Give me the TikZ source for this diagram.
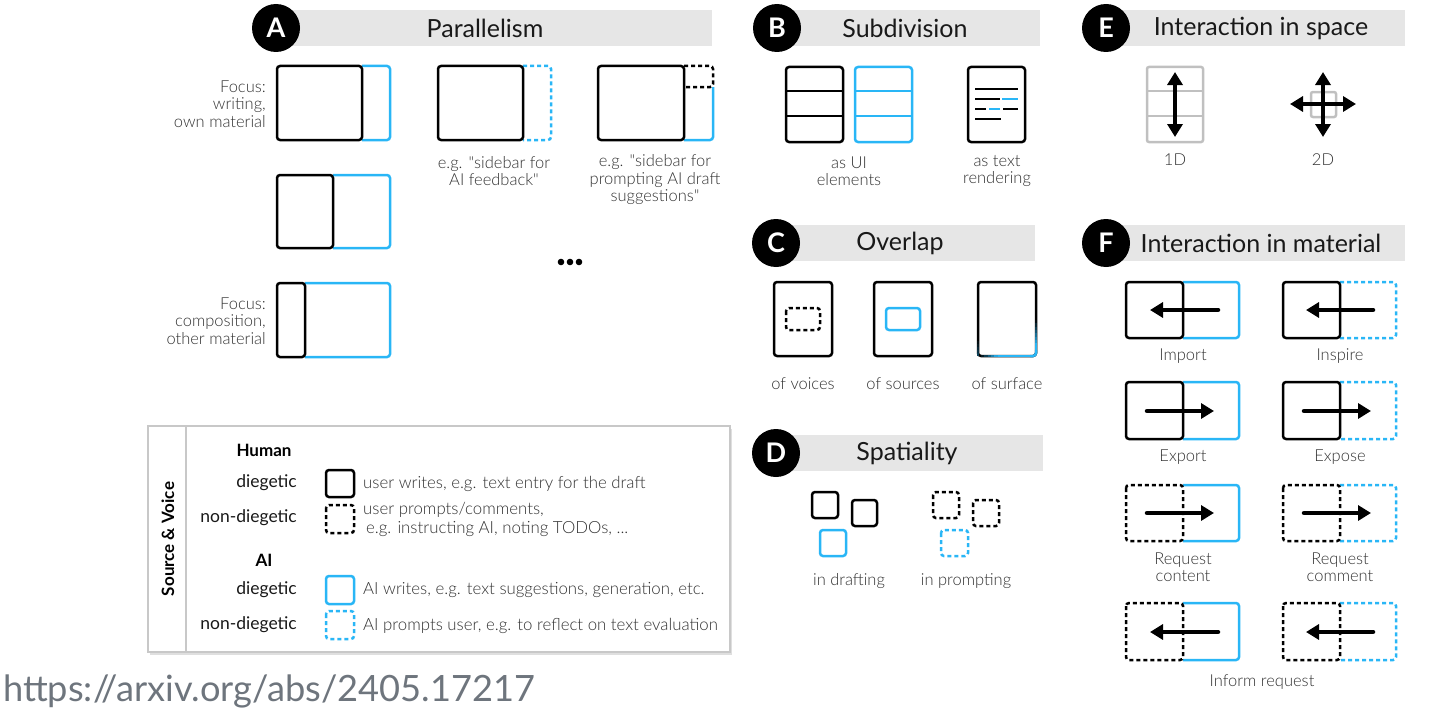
\documentclass[tikz,border=0pt]{standalone}
\usepackage{fontspec}
\setmainfont{Lato}
\newfontfamily\lightf{Lato Light}
\usepackage{graphicx}
\usetikzlibrary{arrows.meta,shadows}
\definecolor{bluec}{RGB}{41,182,246}
\definecolor{hdrgray}{RGB}{230,230,230}
\definecolor{labelc}{RGB}{50,50,50}
\definecolor{urlc}{RGB}{110,117,125}
\definecolor{gridgray}{RGB}{192,192,192}
\definecolor{leggray}{RGB}{200,200,200}
\newcommand\sechead[7]{%
  \fill[hdrgray] (#3,#4-18) rectangle (#5,#4+18);
  \node[circ] (c#1) at (#3,#4) {#2};
  \node[sectitle] (t#1) at (#6,#4) {#7};
}
\begin{document}
\begin{tikzpicture}[x=1pt,y=-1pt,
  circ/.style={circle, fill=black, minimum size=48pt, inner sep=0pt, text=white, font=\bfseries\fontsize{27}{27}\selectfont},
  sectitle/.style={font=\fontsize{25}{28}\selectfont, text=black!90, inner sep=0pt},
  lbl/.style={font=\lightf\fontsize{16.5}{17.5}\selectfont, text=labelc, align=center, inner sep=0pt},
  legtxt/.style={font=\lightf\fontsize{16.8}{18}\selectfont, text=labelc, inner sep=0pt, anchor=west},
  legkey/.style={font=\fontsize{17.5}{18}\selectfont, text=black!90, inner sep=0pt, anchor=east},
  leghead/.style={font=\bfseries\fontsize{17}{18}\selectfont, text=black, inner sep=0pt},
  bk/.style={draw=black, line width=2.5pt, rounded corners=3pt},
  bl/.style={draw=bluec, line width=2.5pt, rounded corners=3pt},
  dsh/.style={dash pattern=on 4pt off 3pt},
  gridsty/.style={draw=gridgray, line width=2.5pt, rounded corners=2pt},
  thickarr/.style={line width=4.5pt, line cap=round, -{Triangle[length=13pt,width=15pt]}},
  dblarr/.style={line width=4.5pt, {Triangle[length=13pt,width=15pt]}-{Triangle[length=13pt,width=15pt]}},
]
\useasboundingbox (0,0) rectangle (1440,717);

% ---------- headers ----------
\sechead{A}{A}{276}{28}{712}{485}{Parallelism}
\sechead{B}{B}{777}{28}{1040}{905}{Subdivision}
\sechead{C}{C}{776}{243}{1035}{900}{Overlap}
\sechead{D}{D}{776}{453}{1043}{907}{Spatiality}
\sechead{E}{E}{1106}{28}{1405}{1261}{Interaction in space}
\sechead{F}{F}{1106}{243}{1405}{1261}{Interaction in material}

% ---------- A: Parallelism ----------
\draw[bl] (362,66) -- (390,66) -- (390,140) -- (362,140);
\draw[bk] (277,66) rectangle (362,140);
\draw[bl,dsh] (523,66) -- (551,66) -- (551,140) -- (523,140);
\draw[bk] (438,66) rectangle (523,140);
\draw[bl] (713,87) -- (713,140) -- (684,140);
\draw[bk,dsh] (684,66) -- (713,66) -- (713,87) -- (684,87);
\draw[bk] (598,66) rectangle (684,140);
\draw[bl] (333,175) -- (390,175) -- (390,248) -- (333,248);
\draw[bk] (277,175) rectangle (333,248);
\draw[bl] (305,283) -- (390,283) -- (390,357) -- (305,357);
\draw[bk] (277,283) rectangle (305,357);
\node[lbl, anchor=east, align=right] (focus1) at (266,104) {Focus:\\writing,\\own material};
\node[lbl, anchor=east, align=right] (focus2) at (266,321) {Focus:\\composition,\\other material};
\node[lbl] (eg1) at (494,171) {e.g. "sidebar for\\AI feedback"};
\node[lbl] (eg2) at (655,180) {e.g. "sidebar for\\prompting AI draft\\suggestions"};
\foreach \x in {561,570,579} \fill (\x,262) circle (3.3pt);

% ---------- B: Subdivision ----------
\draw[bk] (786,67) rectangle (843,142);
\draw[black, line width=2.5pt] (786,91) -- (843,91) (786,116) -- (843,116);
\draw[bl] (855,67) rectangle (912,142);
\draw[bluec, line width=2.5pt] (855,91) -- (912,91) (855,116) -- (912,116);
\draw[bk] (968,67) rectangle (1025,142);
\begin{scope}[line width=2.3pt]
\draw[black] (975,89) -- (1018,89);
\draw[black] (975,99) -- (1000,99);
\draw[bluec] (1002,99) -- (1018,99);
\draw[black] (975,109) -- (986,109);
\draw[bluec] (989,109) -- (1000,109);
\draw[black] (1003,109) -- (1018,109);
\draw[black] (975,119) -- (1001,119);
\end{scope}
\node[lbl] (asui) at (849,171) {as UI\\elements};
\node[lbl] (astext) at (997,171) {as text\\rendering};

% ---------- C: Overlap ----------
\draw[bk] (774,282) rectangle (832,356);
\draw[bk,dsh] (786,308) rectangle (820,330);
\draw[bk] (874,282) rectangle (932,356);
\draw[bl] (886,308) rectangle (920,330);
\draw[bk] (978,282) rectangle (1036,356);
% gradient from black (top-left) to blue (bottom-right)
\foreach \i in {0,...,19}{
  \pgfmathsetmacro\ya{287+\i*3.3}
  \pgfmathsetmacro\yb{\ya+3.4}
  \pgfmathsetmacro\p{min(100,max(0,(\i/19-0.5)/0.4*100))}
  \draw[bluec!\p!black, line width=2.5pt] (1036,\ya) -- (1036,\yb);
}
\foreach \i in {0,...,15}{
  \pgfmathsetmacro\xa{981+\i*3.3}
  \pgfmathsetmacro\xb{\xa+3.4}
  \pgfmathsetmacro\p{min(100,max(0,(\i/15+0.05)/0.35*100))}
  \draw[bluec!\p!black, line width=2.5pt] (\xa,356) -- (\xb,356);
}
\draw[bluec, line width=2.5pt, rounded corners=3pt] (1036,350) -- (1036,356) -- (1030,356);
\foreach \i in {0,...,5}{
  \pgfmathsetmacro\ya{338+\i*3}
  \pgfmathsetmacro\yb{\ya+3.1}
  \pgfmathsetmacro\p{\i*7}
  \draw[bluec!\p!black, line width=2.5pt] (978,\ya) -- (978,\yb);
}
\node[lbl] (ovv) at (803,384) {of voices};
\node[lbl] (ovs) at (903,384) {of sources};
\node[lbl] (ovf) at (1007,384) {of surface};

% ---------- D: Spatiality ----------
\draw[bk] (812,492) rectangle (838,518);
\draw[bk] (852,500) rectangle (877,526);
\draw[bl] (820,530) rectangle (846,556);
\draw[bk,dsh] (933,492) rectangle (959,518);
\draw[bk,dsh] (973,500) rectangle (999,526);
\draw[bl,dsh] (941,530) rectangle (968,556);
\node[lbl] (indr) at (849,581) {in drafting};
\node[lbl] (inpr) at (966,581) {in prompting};

% ---------- E: Interaction in space ----------
\draw[gridsty] (1147,67) rectangle (1203,142);
\draw[gridgray, line width=2.5pt] (1147,91) -- (1203,91) (1147,116) -- (1203,116);
\draw[dblarr] (1175,72) -- (1175,137);
\draw[gridsty] (1311,92) rectangle (1336,117);
\draw[dblarr] (1290,104) -- (1356,104);
\draw[dblarr] (1323,72) -- (1323,137);
\node[lbl] (oned) at (1175,160) {1D};
\node[lbl] (twod) at (1323,160) {2D};

% ---------- F: Interaction in material ----------
% row 1
\draw[bl] (1183,282) -- (1239,282) -- (1239,338) -- (1183,338);
\draw[bk] (1126,282) rectangle (1183,338);
\draw[thickarr] (1218,310) -- (1150,310);
\draw[bl,dsh] (1340,282) -- (1396,282) -- (1396,338) -- (1340,338);
\draw[bk] (1283,282) rectangle (1340,338);
\draw[thickarr] (1373,310) -- (1306,310);
\node[lbl] (imp) at (1183,356) {Import};
\node[lbl] (insp) at (1340,356) {Inspire};
% row 2
\draw[bl] (1183,382) -- (1239,382) -- (1239,439) -- (1183,439);
\draw[bk] (1126,382) rectangle (1183,439);
\draw[thickarr] (1147,411) -- (1214,411);
\draw[bl,dsh] (1340,382) -- (1396,382) -- (1396,439) -- (1340,439);
\draw[bk] (1283,382) rectangle (1340,439);
\draw[thickarr] (1304,411) -- (1371,411);
\node[lbl] (exp) at (1183,457) {Export};
\node[lbl] (expo) at (1340,457) {Expose};
% row 3
\draw[bl] (1183,485) -- (1239,485) -- (1239,541) -- (1183,541);
\draw[bk,dsh] (1126,485) rectangle (1183,541);
\draw[thickarr] (1147,513) -- (1214,513);
\draw[bl,dsh] (1340,485) -- (1396,485) -- (1396,541) -- (1340,541);
\draw[bk,dsh] (1283,485) rectangle (1340,541);
\draw[thickarr] (1304,513) -- (1371,513);
\node[lbl] (reqc) at (1183,567) {Request\\content};
\node[lbl] (reqm) at (1340,567) {Request\\comment};
% row 4
\draw[bl] (1183,603) -- (1239,603) -- (1239,660) -- (1183,660);
\draw[bk,dsh] (1126,603) rectangle (1183,660);
\draw[thickarr] (1218,632) -- (1150,632);
\draw[bl,dsh] (1340,603) -- (1396,603) -- (1396,660) -- (1340,660);
\draw[bk,dsh] (1283,603) rectangle (1340,660);
\draw[thickarr] (1373,632) -- (1306,632);
\node[lbl] (inform) at (1262,682) {Inform request};

% ---------- Legend ----------
\filldraw[draw=leggray, fill=white, line width=1.5pt, drop shadow={shadow xshift=2pt, shadow yshift=-3pt, opacity=0.25}] (148,426) rectangle (730,652);
\draw[leggray, line width=1.5pt] (186,426) -- (186,652);
\node[rotate=90, font=\bfseries\fontsize{17}{18}\selectfont, inner sep=0pt] (srcv) at (168,539) {Source \& Voice};
\node[leghead] (human) at (264,450) {Human};
\node[leghead] (ai) at (264,560) {AI};
\node[legkey] (k1) at (297,483) {diegetic};
\node[legkey] (k2) at (297,518) {non-diegetic};
\node[legkey] (k3) at (297,590) {diegetic};
\node[legkey] (k4) at (297,625) {non-diegetic};
\draw[bk] (326,470) rectangle (354,497);
\draw[bk,dsh] (326,505) rectangle (354,533);
\draw[bl] (326,576) rectangle (354,604);
\draw[bl,dsh] (326,611) rectangle (354,639);
\node[legtxt] (d1) at (363,484) {user writes, e.g. text entry for the draft};
\node[legtxt] (d2) at (363,510) {user prompts/comments,};
\node[legtxt] (d2b) at (366,529) {e.g. instructing AI, noting TODOs, ...};
\node[legtxt] (d3) at (363,590) {AI writes, e.g. text suggestions, generation, etc.};
\node[legtxt] (d4) at (363,626) {AI prompts user, e.g. to reflect on text evaluation};

% ---------- URL ----------
\node[anchor=west, inner sep=0pt, text=urlc] (url) at (3,691) {\resizebox{532pt}{!}{\fontsize{32}{36}\selectfont https://arxiv.org/abs/2405.17217}};
\end{tikzpicture}
\end{document}
